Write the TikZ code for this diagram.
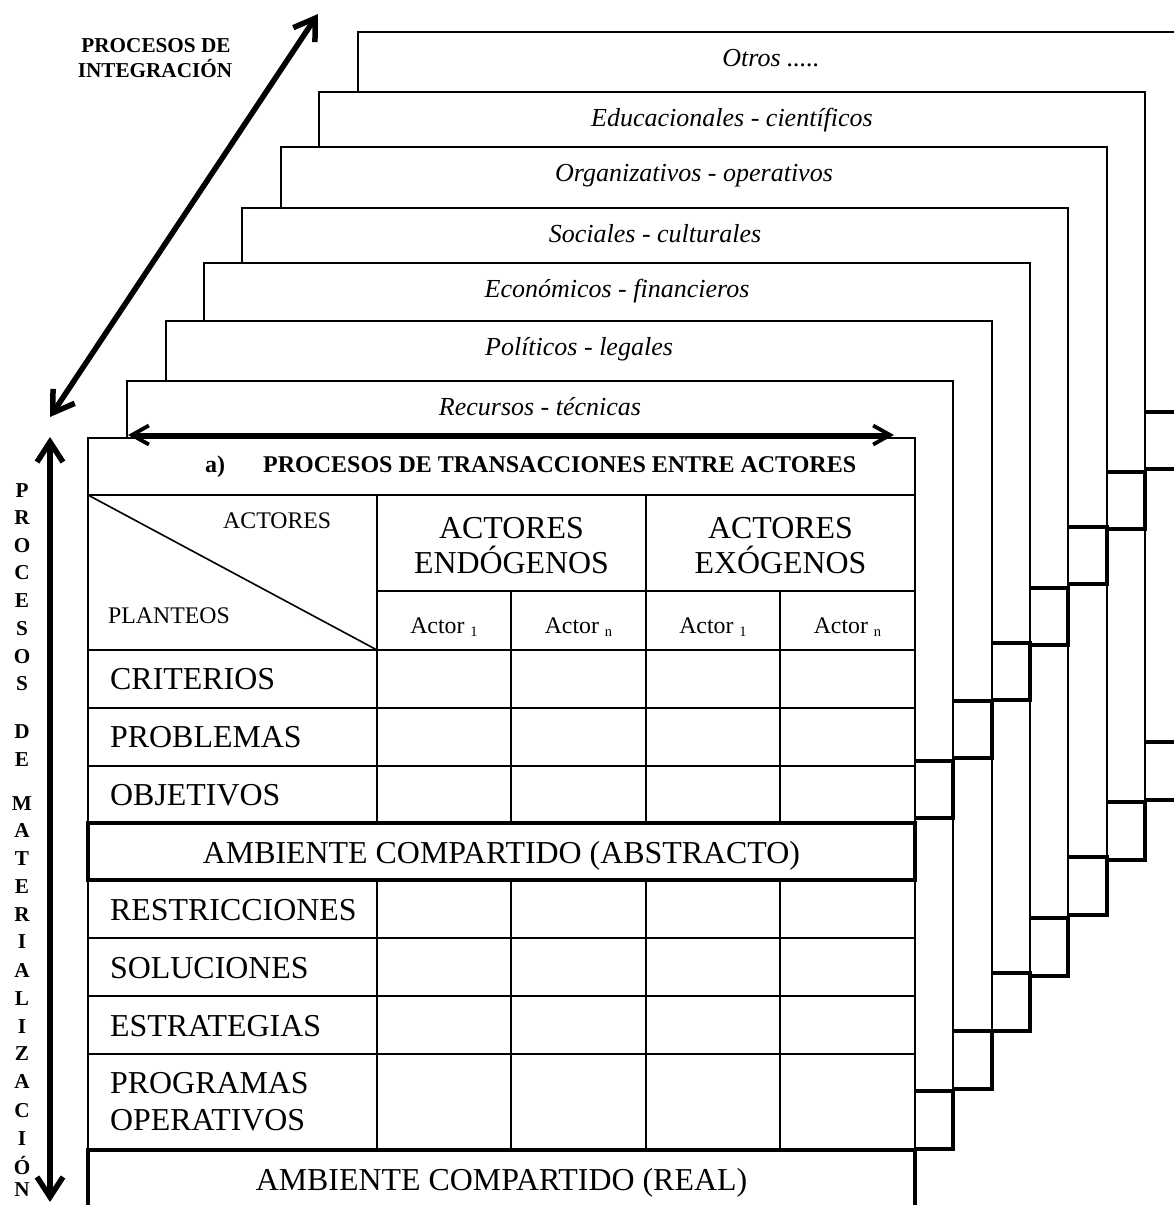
\documentclass[tikz,border=0pt]{standalone}
\usepackage{fontspec}
\setmainfont{Liberation Serif}
\usetikzlibrary{arrows.meta}

% subscript index of an actor cell
\newcommand\actorsub[1]{\raisebox{-3.5pt}{\fontsize{14.5}{15}\selectfont #1}}

\tikzset{
  sheetline/.style={line width=1.7pt},
  gridline/.style={line width=1.6pt},
  ambientbox/.style={line width=3.6pt},
  sheetlabel/.style={anchor=base, inner sep=0pt, font=\fontsize{26}{30}\selectfont\itshape},
  boldlabel/.style={anchor=base, inner sep=0pt, font=\fontsize{21.2}{25}\selectfont\bfseries},
  titletext/.style={anchor=base west, inner sep=0pt, font=\fontsize{24}{28}\selectfont\bfseries},
  smalltext/.style={inner sep=0pt, font=\fontsize{23.8}{28}\selectfont},
  bigtext/.style={inner sep=0pt, font=\fontsize{31.9}{36}\selectfont},
  bigarrow/.style={line width=5.5pt,
    {Straight Barb[length=20pt,width=26pt]}-{Straight Barb[length=20pt,width=26pt]}},
  midarrow/.style={line width=3.8pt,
    {Straight Barb[length=17pt,width=19pt]}-{Straight Barb[length=17pt,width=19pt]}},
}

\begin{document}
\begin{tikzpicture}[x=1pt,y=-1pt]
\useasboundingbox (0,0) rectangle (1174,1205);
\clip (0,0) rectangle (1174,1205);
\fill[white] (0,0) rectangle (1174,1205);

% stacked process sheets, drawn from the back to the front
\foreach \k/\L/\T/\lab in {
  7/358/32/{Otros .....},
  6/319/92/{Educacionales - científicos},
  5/281/147/{Organizativos - operativos},
  4/242/208/{Sociales - culturales},
  3/204/263/{Económicos - financieros},
  2/166/321/{Políticos - legales},
  1/127/381/{Recursos - técnicas}} {
  \pgfmathsetmacro\R{\L+826}
  \filldraw[fill=white, sheetline] (\L,\T) rectangle (\R,\T+768);
  \draw[ambientbox] (\L,\T+380) rectangle (\R,\T+437);
  \draw[ambientbox] (\L,\T+710) rectangle (\R,\T+768);
  \node[sheetlabel] (sheet\k) at ({(\L+\R)/2},\T+34) {\lab};
}

% front sheet: transactions table
\filldraw[fill=white, gridline] (88,438) rectangle (915,1208);
\foreach \yy in {495,650,708,766,938,996,1054}
  \draw[gridline] (88,\yy) -- (915,\yy);
\draw[gridline] (377,591) -- (915,591);
\draw[gridline] (377,495) -- (377,823) (377,880) -- (377,1150);
\draw[gridline] (646,495) -- (646,823) (646,880) -- (646,1150);
\foreach \xx in {511,780}
  \draw[gridline] (\xx,591) -- (\xx,823) (\xx,880) -- (\xx,1150);
\draw[gridline] (88,495) -- (377,650);
\draw[ambientbox] (88,823) rectangle (915,880);
\draw[ambientbox] (88,1150) rectangle (915,1208);

% table texts
\node[titletext] (tita) at (205,472) {a)};
\node[titletext] (titb) at (263,472) {PROCESOS DE TRANSACCIONES ENTRE ACTORES};
\node[smalltext, anchor=base west] (hact) at (223,528) {ACTORES};
\node[smalltext, anchor=base west] (hplan) at (108,623) {PLANTEOS};
\node[bigtext, anchor=base] (endoa) at (511.5,538) {ACTORES};
\node[bigtext, anchor=base] (endob) at (511.5,573) {ENDÓGENOS};
\node[bigtext, anchor=base] (exoa) at (780.5,538) {ACTORES};
\node[bigtext, anchor=base] (exob) at (780.5,573) {EXÓGENOS};
\foreach \xx/\s/\nm in {444/1/a, 578.5/n/b, 713/1/c, 847.5/n/d}
  \node[smalltext, anchor=base] (actor\nm) at (\xx,633) {Actor \actorsub{\s}};
\foreach \yy/\txt/\nm in {689/CRITERIOS/a, 747/PROBLEMAS/b, 805/OBJETIVOS/c,
    920/RESTRICCIONES/d, 978/SOLUCIONES/e, 1036/ESTRATEGIAS/f,
    1093/PROGRAMAS/g, 1130/OPERATIVOS/h}
  \node[bigtext, anchor=base west] (row\nm) at (110,\yy) {\txt};
\node[bigtext, anchor=base] (ambabs) at (501.5,863) {AMBIENTE COMPARTIDO (ABSTRACTO)};
\node[bigtext, anchor=base] (ambreal) at (501.5,1190) {AMBIENTE COMPARTIDO (REAL)};

% side labels
\node[boldlabel] (intega) at (156,52) {PROCESOS DE};
\node[boldlabel] (integb) at (155,77) {INTEGRACIÓN};
\foreach \ch/\yy [count=\i] in {P/497, R/524, O/552, C/579, E/607, S/635, O/663, S/690,
    D/738, E/766,
    M/810, A/837, T/865, E/893, R/921, I/948, A/977, L/1005, I/1033, Z/1060,
    A/1088, C/1117, I/1145, Ó/1174, N/1196}
  \node[boldlabel] (mat\i) at (22,\yy) {\ch};

% process arrows
\coordinate (vtop) at (50,437);
\coordinate (vbot) at (50,1202);
\draw[bigarrow] (vtop) -- (vbot);
\coordinate (dlow) at (50,417);
\coordinate (dup) at (318,14);
\draw[bigarrow] (dlow) -- (dup);
\coordinate (hleft) at (128,435);
\coordinate (hright) at (894,435);
\draw[midarrow] (hleft) -- (hright);
\end{tikzpicture}
\end{document}
